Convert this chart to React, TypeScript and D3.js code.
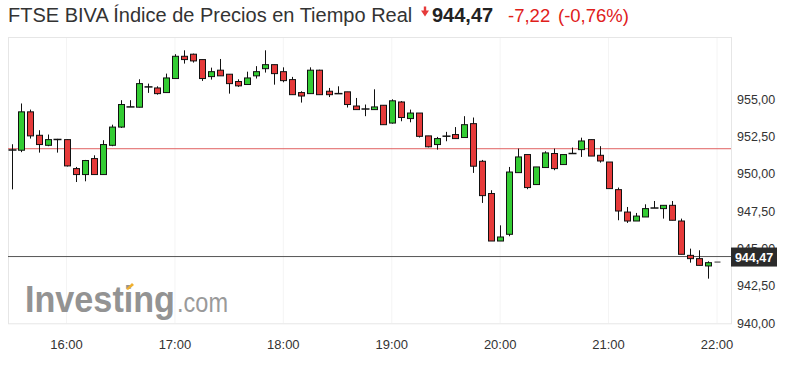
import React from "react";
import * as d3 from "d3";

const times = [
  "15:30","15:35","15:40","15:45","15:50","15:55",
  "16:00","16:05","16:10","16:15","16:20","16:25","16:30","16:35","16:40","16:45","16:50","16:55",
  "17:00","17:05","17:10","17:15","17:20","17:25","17:30","17:35","17:40","17:45","17:50","17:55",
  "18:00","18:05","18:10","18:15","18:20","18:25","18:30","18:35","18:40","18:45","18:50","18:55",
  "19:00","19:05","19:10","19:15","19:20","19:25","19:30","19:35","19:40","19:45","19:50","19:55",
  "20:00","20:05","20:10","20:15","20:20","20:25","20:30","20:35","20:40","20:45","20:50","20:55",
  "21:00","21:05","21:10","21:15","21:20","21:25","21:30","21:35","21:40","21:45","21:50","21:55",
  "22:00"
];

const opens = [
  951.59,951.59,954.16,952.59,951.92,952.30,
  952.30,950.36,949.96,951.03,949.96,951.92,953.14,954.49,954.47,955.83,955.76,955.45,
  956.39,957.88,958.02,957.66,956.52,956.95,956.68,956.19,955.99,956.57,957.05,957.32,
  956.85,956.32,955.45,955.38,956.95,955.54,955.38,955.50,954.55,954.35,954.31,954.60,
  953.41,954.82,953.71,954.08,952.55,951.97,952.53,952.64,952.44,953.37,950.85,948.69,
  945.51,945.96,950.09,951.30,949.29,950.43,951.37,950.63,951.37,951.63,952.30,951.25,
  950.80,948.95,947.45,946.85,947.12,947.72,947.68,947.90,946.85,944.55,944.33,943.84,
  944.10
];
const highs = [
  951.99,954.72,954.31,952.93,952.64,952.35,
  952.32,950.47,950.94,951.25,952.26,953.30,954.94,954.94,956.34,956.05,955.87,956.72,
  958.02,958.28,958.06,957.66,957.12,957.70,956.68,956.34,956.85,957.22,958.28,957.32,
  957.14,956.50,955.54,957.14,956.98,955.76,955.87,955.50,955.09,954.65,955.67,954.60,
  955.00,954.88,954.31,954.08,952.55,952.48,952.82,953.14,953.87,953.78,950.94,948.91,
  946.56,950.47,951.70,951.30,950.47,951.52,951.70,951.30,951.77,952.43,952.30,951.86,
  950.80,949.09,947.79,947.39,947.97,948.19,947.90,948.19,947.01,945.00,944.89,944.15,
  944.10
];
const lows = [
  948.97,951.46,952.37,951.43,951.86,951.43,
  950.50,949.46,949.51,949.96,949.96,951.86,953.08,954.49,954.45,955.43,955.31,955.45,
  956.39,957.39,957.46,956.23,956.32,956.57,955.38,955.83,955.99,956.39,956.79,955.98,
  956.14,955.31,954.78,955.38,955.31,955.15,955.38,954.45,954.31,953.87,954.31,953.30,
  953.37,953.53,953.46,952.44,951.78,951.63,952.19,952.37,952.44,950.07,948.06,945.51,
  945.51,945.83,950.09,948.98,949.29,950.43,950.25,950.63,951.37,951.14,951.20,950.76,
  949.02,946.90,946.72,946.85,947.12,947.72,947.01,946.90,944.62,944.06,943.88,942.99,
  944.10
];
const closes = [
  951.62,954.16,952.55,951.97,952.30,952.32,
  950.54,949.96,950.90,949.96,951.97,953.14,954.65,954.49,956.05,955.83,955.38,956.43,
  957.88,957.66,957.57,956.39,956.85,956.57,956.05,955.90,956.43,956.85,957.32,956.72,
  956.25,955.31,955.22,956.95,955.31,955.31,955.38,954.65,954.31,954.35,954.49,953.30,
  954.90,953.78,954.08,952.52,951.82,952.37,952.53,952.37,953.30,950.52,948.55,945.51,
  945.78,950.13,951.14,949.09,950.47,951.41,950.36,951.30,951.37,952.21,951.20,950.87,
  949.02,947.52,946.85,947.18,947.68,947.72,947.90,946.90,944.62,944.33,943.88,944.06,
  944.10
];

const yTicks = [940, 942.5, 945, 947.5, 950, 952.5, 955];
const xTicks = ["16:00","17:00","18:00","19:00","20:00","21:00","22:00"];
const prevClose = 951.69;
const lastPrice = 944.47;
const titleText = "FTSE BIVA Índice de Precios en Tiempo Real";
const lastText = "944,47";
const changeText = "-7,22";
const pctText = "(-0,76%)";

const FONT = "'Liberation Sans', Arial, Helvetica, sans-serif";
const GREEN = "#33cc33";
const RED = "#e63a3a";

export default function App() {
  const W = 791, H = 368;
  const plotL = 8, plotR = 731, plotT = 37, plotB = 323.3;
  const parse = d3.timeParse("%H:%M");
  const x = d3.scaleTime()
    .domain([parse("15:30") as Date, parse("22:00") as Date])
    .range([12.3, 717]);
  const y = d3.scaleLinear().domain([940, 955]).range([323.3, 99.3]);
  const fmt = (v: number) => v.toFixed(2).replace(".", ",");
  const bw = 6;

  return (
    <svg width={W} height={H} style={{ position: "absolute", left: 0, top: 0, background: "#fff" }} fontFamily={FONT}>
      {/* title */}
      <text x={8} y={22} fontSize={20} fill="#333">{titleText}</text>
      <path d="M421,10.5 L429,10.5 L425,16.5 Z M423.8,6.5 L426.2,6.5 L426.2,11 L423.8,11 Z" fill={RED} />
      <text x={432} y={22} fontSize={20} fontWeight="bold" fill="#222">{lastText}</text>
      <text x={508} y={22} fontSize={18.5} fill="#e0201b">{changeText}</text>
      <text x={558} y={22} fontSize={18.5} fill="#e0201b">{pctText}</text>

      {/* plot frame & grid */}
      {xTicks.map((t) => (
        <line key={"g" + t} x1={x(parse(t) as Date)} x2={x(parse(t) as Date)} y1={plotT} y2={plotB} stroke="#f4f4f4" />
      ))}
      <rect x={plotL + 0.5} y={plotT + 0.5} width={plotR - plotL} height={plotB - plotT} fill="none" stroke="#e6e6e6" />

      {/* logo */}
      <text x={25} y={311.5} fontSize={37} fontWeight="bold" fill="#939393" textLength={150} lengthAdjust="spacingAndGlyphs">Investing</text>
      <text x={177} y={311.5} fontSize={27} fill="#9a9a9a" textLength={51} lengthAdjust="spacingAndGlyphs">.com</text>
      <path d="M126,289 L132,283 L134,285 L128,290 Z" fill="#f0b030" />

      {/* reference lines */}
      <line x1={plotL} x2={plotR} y1={y(prevClose)} y2={y(prevClose)} stroke="#e06060" strokeWidth={1} />
      <line x1={plotL} x2={plotR} y1={y(lastPrice)} y2={y(lastPrice)} stroke="#555" strokeWidth={1} />

      {/* candles */}
      {times.map((t, i) => {
        const cx = Math.round(x(parse(t) as Date)) + 0.5;
        const o = opens[i], c = closes[i], h = highs[i], l = lows[i];
        const yTop = y(Math.max(o, c)), yBot = y(Math.min(o, c));
        const bodyH = yBot - yTop;
        const up = c >= o;
        const last = i === times.length - 1;
        if (last) {
          return <line key={t} x1={cx - 3} x2={cx + 3} y1={y(c)} y2={y(c)} stroke="#555" strokeWidth={1.2} />;
        }
        return (
          <g key={t}>
            <line x1={cx} x2={cx} y1={y(h)} y2={y(l)} stroke="#111" strokeWidth={1} />
            {bodyH < 1.5 ? (
              <line x1={cx - 4} x2={cx + 4} y1={(yTop + yBot) / 2} y2={(yTop + yBot) / 2} stroke="#111" strokeWidth={1.5} />
            ) : (
              <rect x={cx - bw / 2} y={yTop} width={bw} height={bodyH} fill={up ? GREEN : RED} stroke="#111" strokeWidth={1} />
            )}
          </g>
        );
      })}

      {/* y axis labels */}
      {yTicks.map((v) => (
        <text key={v} x={737} y={y(v) + 4.5} fontSize={12.5} fill="#333">{fmt(v)}</text>
      ))}
      {/* last price box */}
      <rect x={731} y={y(lastPrice) - 9} width={46} height={19} fill="#2b2b2b" />
      <text x={754} y={y(lastPrice) + 5} fontSize={12.5} fontWeight="bold" fill="#fff" textAnchor="middle">{lastText}</text>

      {/* x axis labels */}
      {xTicks.map((t) => (
        <text key={t} x={x(parse(t) as Date)} y={349} fontSize={13} fill="#333" textAnchor="middle">{t}</text>
      ))}
    </svg>
  );
}
